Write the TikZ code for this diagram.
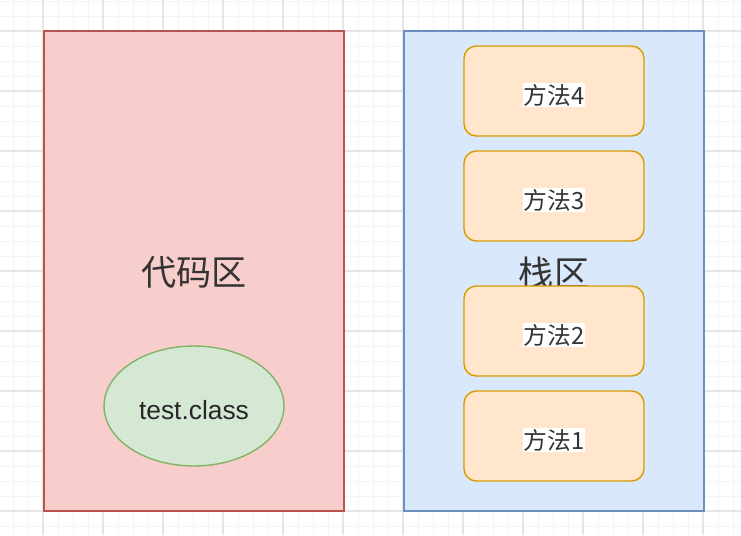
\documentclass[tikz,border=0pt]{standalone}
\usepackage{fontspec}
\setmainfont{Liberation Sans}
\newfontfamily\cjk{Noto Sans CJK SC}
\usepackage{tikz}
\usetikzlibrary{positioning,shapes.geometric}
\definecolor{gridminor}{HTML}{F4F4F4}
\definecolor{gridmajor}{HTML}{E6E6E6}
\definecolor{redfill}{HTML}{F8CECC}
\definecolor{redline}{HTML}{B85450}
\definecolor{bluefill}{HTML}{DAE8FC}
\definecolor{blueline}{HTML}{6C8EBF}
\definecolor{orangefill}{HTML}{FFE6CC}
\definecolor{orangeline}{HTML}{D79B00}
\definecolor{greenfill}{HTML}{D5E8D4}
\definecolor{greenline}{HTML}{82B366}
\definecolor{textgray}{HTML}{333333}

\begin{document}
\begin{tikzpicture}[x=0.02cm, y=-0.02cm,
        area/.style={rectangle, inner sep=0pt, line width=0.8pt,
                     minimum width=6cm, minimum height=9.6cm},
        method/.style={rectangle, rounded corners=7pt, inner sep=0pt,
                       line width=0.8pt, draw=orangeline, fill=orangefill,
                       minimum width=3.6cm, minimum height=1.8cm},
        mlabel/.style={fill=white, inner sep=0.5pt, text=textgray,
                       font=\cjk\fontsize{13.5}{14}\selectfont},
        big/.style={text=textgray, font=\cjk\fontsize{20}{22}\selectfont},
      ]
        \useasboundingbox (0,0) rectangle (741,535);
        \fill[white] (0,0) rectangle (741,535);

        % background grid
        \foreach \x in {13,28,...,741} \draw[gridminor, line width=0.5pt] (\x,0) -- (\x,535);
        \foreach \y in {1,16,...,535} \draw[gridminor, line width=0.5pt] (0,\y) -- (741,\y);
        \foreach \x in {43,103,...,741} \draw[gridmajor, line width=0.6pt] (\x,0) -- (\x,535);
        \foreach \y in {31,91,...,535} \draw[gridmajor, line width=0.6pt] (0,\y) -- (741,\y);

        % code area
        \node[area, draw=redline, fill=redfill] (code) at (194,271) {};
        \node[big] (codetext) at (194,272) {代码区};
        \node[ellipse, inner sep=0pt, line width=0.8pt, draw=greenline, fill=greenfill,
              minimum width=3.6cm, minimum height=2.4cm] (cls) at (194,406) {};
        \node[text=black!85, font=\fontsize{15}{16}\selectfont] (clstext) at (194,410) {test.class};

        % stack area
        \node[area, draw=blueline, fill=bluefill] (stack) at (554,271) {};
        \node[big] (stacktext) at (554,273) {栈区};

        % methods on the stack
        \node[method] (m4) at (554,91) {};
        \node[mlabel] (m4t) at ([yshift=-4*0.02cm]m4) {方法4};
        \node[method] (m3) at (554,196) {};
        \node[mlabel] (m3t) at ([yshift=-4*0.02cm]m3) {方法3};
        \node[method] (m2) at (554,331) {};
        \node[mlabel] (m2t) at ([yshift=-4*0.02cm]m2) {方法2};
        \node[method] (m1) at (554,436) {};
        \node[mlabel] (m1t) at ([yshift=-4*0.02cm]m1) {方法1};
      \end{tikzpicture}
\end{document}
